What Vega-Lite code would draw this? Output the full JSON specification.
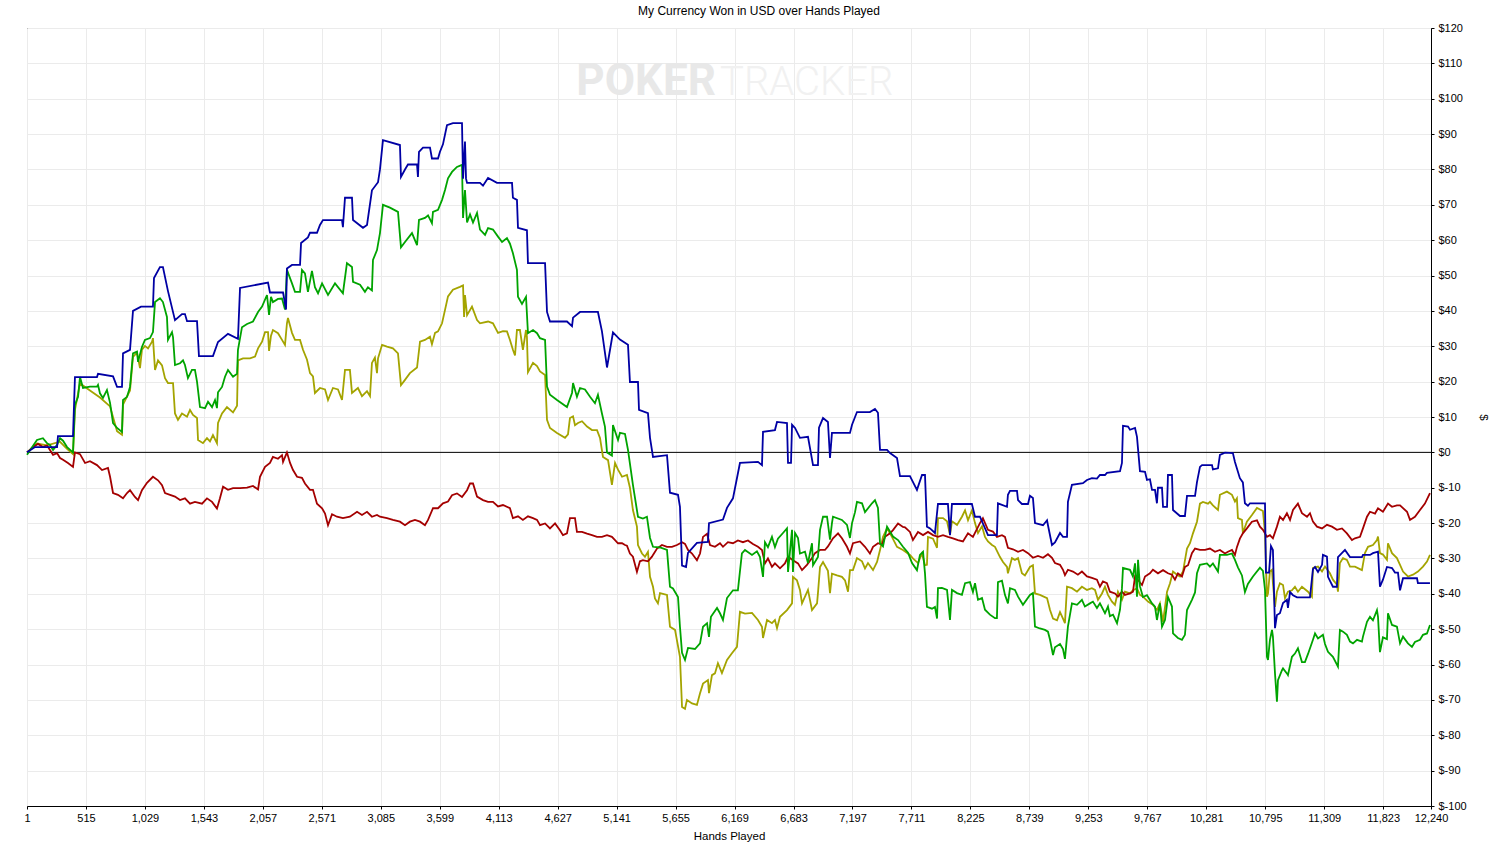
{
  "$schema": "https://vega.github.io/schema/vega-lite/v6.json",
  "width": 1404,
  "height": 778,
  "autosize": {"type": "none"},
  "padding": {"left": 27, "top": 28, "right": 80, "bottom": 37},
  "background": "#ffffff",
  "config": {
    "font": "Liberation Sans",
    "view": {"stroke": "#000000", "strokeWidth": 1},
    "axis": {"labelFont": "Liberation Sans", "titleFont": "Liberation Sans", "labelFontSize": 11, "titleFontSize": 11.5, "titleFontWeight": "normal", "labelColor": "#000000", "titleColor": "#000000", "domainColor": "#000000", "tickColor": "#000000", "gridColor": "#ebebeb", "gridWidth": 1}
  },
  "title": {"text": "My Currency Won in USD over Hands Played", "fontSize": 12, "fontWeight": "normal", "font": "Liberation Sans", "color": "#000000", "anchor": "middle", "frame": "group", "dx": 30, "offset": 4},
  "datasets": {
    "blue": [
      {"h":1,"v":0},{"h":71,"v":1.5},{"h":263,"v":1.5},{"h":271,"v":4.6},{"h":402,"v":4.6},{"h":419,"v":21.3},{"h":611,"v":21.3},{"h":620,"v":22.2},{"h":751,"v":21.5},{"h":786,"v":18.5},{"h":829,"v":18.5},{"h":838,"v":28},{"h":899,"v":29},{"h":925,"v":40},{"h":995,"v":41.2},{"h":1099,"v":41.2},{"h":1108,"v":49.3},{"h":1160,"v":52.4},{"h":1186,"v":52.4},{"h":1230,"v":45.6},{"h":1291,"v":37.4},{"h":1352,"v":39.1},{"h":1378,"v":39.1},{"h":1396,"v":37.1},{"h":1483,"v":37.1},{"h":1500,"v":27.2},{"h":1622,"v":27.2},{"h":1666,"v":31.2},{"h":1753,"v":33.5},{"h":1840,"v":32.1},{"h":1858,"v":46.5},{"h":2102,"v":48},{"h":2119,"v":45.2},{"h":2233,"v":45.2},{"h":2259,"v":40.4},{"h":2267,"v":52},{"h":2311,"v":53},{"h":2381,"v":53},{"h":2390,"v":59.2},{"h":2450,"v":60.8},{"h":2468,"v":62.1},{"h":2529,"v":62.1},{"h":2555,"v":64.3},{"h":2581,"v":65.7},{"h":2747,"v":65.7},{"h":2755,"v":63.7},{"h":2773,"v":72},{"h":2834,"v":72},{"h":2843,"v":65.7},{"h":2930,"v":63.5},{"h":2965,"v":64.3},{"h":3008,"v":74.1},{"h":3061,"v":76.4},{"h":3078,"v":80},{"h":3104,"v":88.3},{"h":3252,"v":86.9},{"h":3261,"v":77.9},{"h":3296,"v":80},{"h":3322,"v":81.4},{"h":3401,"v":81.4},{"h":3409,"v":77.9},{"h":3418,"v":85},{"h":3453,"v":86.2},{"h":3514,"v":86.2},{"h":3531,"v":83.1},{"h":3584,"v":83.1},{"h":3601,"v":85},{"h":3627,"v":87.1},{"h":3662,"v":92.5},{"h":3714,"v":93.1},{"h":3793,"v":93.1},{"h":3802,"v":77.4},{"h":3819,"v":87.9},{"h":3828,"v":77.4},{"h":3837,"v":76.2},{"h":3950,"v":76.2},{"h":3976,"v":75.4},{"h":4020,"v":77.6},{"h":4098,"v":76.2},{"h":4229,"v":76.2},{"h":4237,"v":72},{"h":4272,"v":71.4},{"h":4281,"v":63.5},{"h":4359,"v":62.8},{"h":4368,"v":53.5},{"h":4517,"v":53.5},{"h":4534,"v":39.7},{"h":4560,"v":37},{"h":4708,"v":37},{"h":4752,"v":35.7},{"h":4761,"v":38.1},{"h":4822,"v":39.7},{"h":4978,"v":39.7},{"h":5013,"v":34.2},{"h":5057,"v":24},{"h":5109,"v":33.9},{"h":5170,"v":31.9},{"h":5240,"v":30.4},{"h":5257,"v":19.9},{"h":5327,"v":19.9},{"h":5336,"v":12},{"h":5414,"v":11.1},{"h":5432,"v":4.1},{"h":5458,"v":-1.3},{"h":5580,"v":-0.8},{"h":5606,"v":-11.4},{"h":5676,"v":-12},{"h":5693,"v":-15.4},{"h":5711,"v":-32},{"h":5746,"v":-32.4},{"h":5763,"v":-28.4},{"h":5841,"v":-25.6},{"h":5937,"v":-25.3},{"h":5946,"v":-20},{"h":6068,"v":-19},{"h":6103,"v":-15.7},{"h":6155,"v":-13},{"h":6216,"v":-3},{"h":6373,"v":-2.7},{"h":6408,"v":-3.6},{"h":6417,"v":5.8},{"h":6521,"v":6.3},{"h":6539,"v":8.6},{"h":6626,"v":8.3},{"h":6635,"v":-3},{"h":6661,"v":-3},{"h":6670,"v":7.8},{"h":6696,"v":6.9},{"h":6739,"v":4.1},{"h":6809,"v":4.4},{"h":6853,"v":-3.6},{"h":6896,"v":-3.6},{"h":6905,"v":7},{"h":6940,"v":9.7},{"h":6983,"v":8.6},{"h":7001,"v":-1.6},{"h":7018,"v":5.5},{"h":7175,"v":5.5},{"h":7193,"v":7.8},{"h":7236,"v":11.4},{"h":7349,"v":11.4},{"h":7393,"v":12.3},{"h":7419,"v":11.2},{"h":7437,"v":0.7},{"h":7498,"v":0.7},{"h":7524,"v":-0.2},{"h":7585,"v":-1.6},{"h":7611,"v":-6.7},{"h":7698,"v":-6.7},{"h":7759,"v":-10.6},{"h":7803,"v":-6.4},{"h":7829,"v":-6.4},{"h":7846,"v":-21},{"h":7873,"v":-21.5},{"h":7916,"v":-22.8},{"h":7942,"v":-14.6},{"h":8029,"v":-14.6},{"h":8047,"v":-23.4},{"h":8064,"v":-14.6},{"h":8238,"v":-14.6},{"h":8265,"v":-18.2},{"h":8308,"v":-18.2},{"h":8378,"v":-23.4},{"h":8456,"v":-23.4},{"h":8465,"v":-14.4},{"h":8544,"v":-15.4},{"h":8552,"v":-12},{"h":8570,"v":-10.9},{"h":8631,"v":-10.9},{"h":8640,"v":-13.5},{"h":8674,"v":-14.6},{"h":8727,"v":-14.6},{"h":8744,"v":-12.3},{"h":8770,"v":-12.9},{"h":8788,"v":-20},{"h":8858,"v":-20.6},{"h":8893,"v":-19.2},{"h":8901,"v":-20.6},{"h":8936,"v":-26.2},{"h":8962,"v":-25.5},{"h":9006,"v":-22.8},{"h":9032,"v":-23.9},{"h":9067,"v":-23.9},{"h":9075,"v":-14},{"h":9110,"v":-9.2},{"h":9206,"v":-8.7},{"h":9241,"v":-7.8},{"h":9284,"v":-7.3},{"h":9328,"v":-7.4},{"h":9354,"v":-6.4},{"h":9398,"v":-6.4},{"h":9415,"v":-5.8},{"h":9529,"v":-5.3},{"h":9546,"v":-3},{"h":9555,"v":7.5},{"h":9599,"v":7.3},{"h":9616,"v":6.4},{"h":9660,"v":6.9},{"h":9677,"v":4.4},{"h":9703,"v":-5.3},{"h":9747,"v":-5.5},{"h":9764,"v":-7.8},{"h":9790,"v":-7.6},{"h":9808,"v":-10.6},{"h":9834,"v":-10.6},{"h":9851,"v":-14.4},{"h":9860,"v":-10},{"h":9895,"v":-10},{"h":9904,"v":-15.4},{"h":9939,"v":-15.4},{"h":9947,"v":-6.4},{"h":9982,"v":-6.4},{"h":9991,"v":-16.3},{"h":10052,"v":-18},{"h":10095,"v":-18},{"h":10113,"v":-12.3},{"h":10183,"v":-12.3},{"h":10200,"v":-8.4},{"h":10226,"v":-4.1},{"h":10244,"v":-3.6},{"h":10331,"v":-3.6},{"h":10339,"v":-4.8},{"h":10383,"v":-4.5},{"h":10400,"v":-0.7},{"h":10444,"v":-0.1},{"h":10513,"v":-0.2},{"h":10531,"v":-2.7},{"h":10574,"v":-7.3},{"h":10600,"v":-8.5},{"h":10618,"v":-14.4},{"h":10644,"v":-15.1},{"h":10662,"v":-14.4},{"h":10793,"v":-14.4},{"h":10801,"v":-34},{"h":10828,"v":-34},{"h":10845,"v":-26.5},{"h":10862,"v":-27.6},{"h":10880,"v":-49.7},{"h":10897,"v":-46},{"h":10923,"v":-45.5},{"h":10950,"v":-42.6},{"h":10984,"v":-41.7},{"h":10993,"v":-44},{"h":11011,"v":-39.5},{"h":11037,"v":-40.4},{"h":11072,"v":-41},{"h":11185,"v":-41},{"h":11211,"v":-33},{"h":11229,"v":-32.4},{"h":11255,"v":-33.8},{"h":11290,"v":-31.8},{"h":11298,"v":-29},{"h":11333,"v":-29.5},{"h":11342,"v":-35.2},{"h":11385,"v":-38},{"h":11420,"v":-38},{"h":11429,"v":-29.6},{"h":11490,"v":-27.6},{"h":11534,"v":-29.6},{"h":11638,"v":-29.6},{"h":11647,"v":-29},{"h":11708,"v":-29},{"h":11734,"v":-28.5},{"h":11778,"v":-28.1},{"h":11795,"v":-38},{"h":11821,"v":-36},{"h":11856,"v":-32.4},{"h":11900,"v":-32.7},{"h":11926,"v":-34},{"h":11952,"v":-34},{"h":11970,"v":-39},{"h":11996,"v":-35.6},{"h":12118,"v":-35.6},{"h":12126,"v":-37},{"h":12231,"v":-37}
    ],
    "green": [
      {"h":1,"v":-0.7},{"h":88,"v":3.5},{"h":140,"v":4},{"h":175,"v":2.6},{"h":201,"v":2.1},{"h":228,"v":0.7},{"h":263,"v":2.1},{"h":289,"v":4},{"h":315,"v":3.3},{"h":350,"v":1.5},{"h":402,"v":0},{"h":419,"v":13.4},{"h":446,"v":15.7},{"h":463,"v":21.3},{"h":489,"v":18.2},{"h":550,"v":18.6},{"h":611,"v":18.6},{"h":620,"v":19.1},{"h":637,"v":16.7},{"h":663,"v":15.4},{"h":698,"v":17.6},{"h":725,"v":14},{"h":751,"v":8.3},{"h":786,"v":6.9},{"h":829,"v":5.8},{"h":838,"v":14.8},{"h":873,"v":15.7},{"h":899,"v":18.5},{"h":925,"v":28},{"h":960,"v":28.5},{"h":969,"v":25.6},{"h":1003,"v":29.8},{"h":1029,"v":31.8},{"h":1073,"v":32.3},{"h":1099,"v":34},{"h":1117,"v":42.5},{"h":1160,"v":43.6},{"h":1186,"v":42.5},{"h":1221,"v":38.3},{"h":1230,"v":31.8},{"h":1265,"v":34},{"h":1274,"v":32.5},{"h":1291,"v":24.7},{"h":1335,"v":25.2},{"h":1361,"v":26},{"h":1378,"v":24.7},{"h":1404,"v":21},{"h":1439,"v":23.3},{"h":1465,"v":23.3},{"h":1483,"v":20},{"h":1509,"v":12.8},{"h":1553,"v":12.5},{"h":1579,"v":14.3},{"h":1614,"v":12.8},{"h":1640,"v":14.8},{"h":1657,"v":12.5},{"h":1666,"v":17},{"h":1701,"v":18.5},{"h":1727,"v":21.4},{"h":1753,"v":23.3},{"h":1797,"v":21.4},{"h":1832,"v":22.2},{"h":1840,"v":29},{"h":1875,"v":35.4},{"h":1919,"v":36.3},{"h":1971,"v":37},{"h":2015,"v":39.7},{"h":2050,"v":41.2},{"h":2093,"v":44.5},{"h":2111,"v":38.9},{"h":2128,"v":44},{"h":2145,"v":42.5},{"h":2189,"v":43.4},{"h":2224,"v":43.5},{"h":2250,"v":40.4},{"h":2267,"v":51.6},{"h":2311,"v":47.8},{"h":2337,"v":45.4},{"h":2381,"v":45.4},{"h":2398,"v":51.6},{"h":2424,"v":50.6},{"h":2450,"v":45.4},{"h":2485,"v":51.3},{"h":2511,"v":46.7},{"h":2538,"v":45},{"h":2573,"v":47.8},{"h":2625,"v":44.5},{"h":2686,"v":47.8},{"h":2755,"v":45},{"h":2790,"v":53.5},{"h":2834,"v":52.4},{"h":2843,"v":48.2},{"h":2904,"v":47.4},{"h":2947,"v":45.4},{"h":2973,"v":46.7},{"h":3008,"v":45.8},{"h":3017,"v":54.4},{"h":3052,"v":57.2},{"h":3078,"v":62},{"h":3104,"v":70},{"h":3165,"v":69.2},{"h":3235,"v":68},{"h":3261,"v":58},{"h":3296,"v":59.5},{"h":3357,"v":62},{"h":3401,"v":58.6},{"h":3418,"v":65.7},{"h":3470,"v":66.3},{"h":3497,"v":67},{"h":3531,"v":64.8},{"h":3540,"v":68},{"h":3584,"v":68.6},{"h":3619,"v":71.4},{"h":3645,"v":74.2},{"h":3671,"v":77.5},{"h":3706,"v":79.3},{"h":3749,"v":80.7},{"h":3793,"v":81.3},{"h":3802,"v":66.3},{"h":3819,"v":74.2},{"h":3837,"v":65},{"h":3863,"v":67.3},{"h":3889,"v":65},{"h":3924,"v":67.7},{"h":3950,"v":63},{"h":3994,"v":61.5},{"h":4020,"v":63.4},{"h":4063,"v":63},{"h":4107,"v":61},{"h":4142,"v":59.5},{"h":4185,"v":60.6},{"h":4211,"v":59},{"h":4237,"v":56.3},{"h":4272,"v":51.6},{"h":4281,"v":44},{"h":4316,"v":42},{"h":4351,"v":44},{"h":4368,"v":33.7},{"h":4412,"v":34.6},{"h":4447,"v":33.7},{"h":4473,"v":32.3},{"h":4517,"v":31.8},{"h":4534,"v":18.6},{"h":4560,"v":16.3},{"h":4621,"v":14.8},{"h":4708,"v":12.8},{"h":4752,"v":16.8},{"h":4761,"v":19.6},{"h":4795,"v":15.7},{"h":4822,"v":18.2},{"h":4865,"v":17.8},{"h":4909,"v":15.7},{"h":4952,"v":13.9},{"h":4978,"v":16.3},{"h":5013,"v":11},{"h":5039,"v":7.3},{"h":5057,"v":0},{"h":5100,"v":-0.9},{"h":5109,"v":7.7},{"h":5153,"v":3.5},{"h":5170,"v":5.5},{"h":5214,"v":5.2},{"h":5240,"v":0.7},{"h":5283,"v":-9.2},{"h":5327,"v":-18.2},{"h":5370,"v":-18.7},{"h":5405,"v":-18.2},{"h":5432,"v":-24.2},{"h":5458,"v":-26.7},{"h":5519,"v":-26.9},{"h":5580,"v":-27.6},{"h":5606,"v":-38},{"h":5632,"v":-38.5},{"h":5676,"v":-40.9},{"h":5693,"v":-49.3},{"h":5711,"v":-56.7},{"h":5737,"v":-58.7},{"h":5763,"v":-55.3},{"h":5824,"v":-55.6},{"h":5868,"v":-54},{"h":5894,"v":-49.3},{"h":5929,"v":-48.3},{"h":5946,"v":-52.2},{"h":5963,"v":-46.5},{"h":6016,"v":-44},{"h":6042,"v":-45.5},{"h":6068,"v":-47.4},{"h":6103,"v":-41.2},{"h":6155,"v":-39},{"h":6198,"v":-39},{"h":6233,"v":-28.6},{"h":6260,"v":-27.6},{"h":6321,"v":-29},{"h":6364,"v":-28},{"h":6390,"v":-29.5},{"h":6417,"v":-35.2},{"h":6434,"v":-25.4},{"h":6460,"v":-26.8},{"h":6495,"v":-23.9},{"h":6521,"v":-26.8},{"h":6547,"v":-24.4},{"h":6591,"v":-22.8},{"h":6626,"v":-21.5},{"h":6635,"v":-33.8},{"h":6670,"v":-21.9},{"h":6678,"v":-33.8},{"h":6696,"v":-22.8},{"h":6722,"v":-24.2},{"h":6739,"v":-28.6},{"h":6783,"v":-28.1},{"h":6809,"v":-31.3},{"h":6844,"v":-25.7},{"h":6853,"v":-31.9},{"h":6896,"v":-29.6},{"h":6914,"v":-21.9},{"h":6940,"v":-18.2},{"h":6975,"v":-18.2},{"h":7001,"v":-24.7},{"h":7018,"v":-20},{"h":7027,"v":-18.2},{"h":7105,"v":-19.1},{"h":7149,"v":-20.5},{"h":7175,"v":-24.2},{"h":7193,"v":-20},{"h":7219,"v":-16.9},{"h":7236,"v":-14},{"h":7280,"v":-14.4},{"h":7306,"v":-16.9},{"h":7367,"v":-14.4},{"h":7393,"v":-13.5},{"h":7419,"v":-15.7},{"h":7437,"v":-25.7},{"h":7463,"v":-26.6},{"h":7498,"v":-21},{"h":7550,"v":-23.8},{"h":7594,"v":-24.8},{"h":7637,"v":-26.7},{"h":7681,"v":-28.4},{"h":7716,"v":-31.3},{"h":7759,"v":-33.3},{"h":7785,"v":-29},{"h":7812,"v":-28.1},{"h":7829,"v":-34.2},{"h":7846,"v":-43.7},{"h":7890,"v":-44.2},{"h":7916,"v":-43.7},{"h":7934,"v":-47},{"h":7942,"v":-38.4},{"h":7977,"v":-38.3},{"h":8021,"v":-38.9},{"h":8047,"v":-47.4},{"h":8064,"v":-38.9},{"h":8108,"v":-39.8},{"h":8151,"v":-40.3},{"h":8178,"v":-37},{"h":8221,"v":-36.7},{"h":8247,"v":-39.5},{"h":8265,"v":-37},{"h":8291,"v":-41.7},{"h":8326,"v":-41.2},{"h":8352,"v":-44.5},{"h":8395,"v":-45.9},{"h":8439,"v":-46.9},{"h":8456,"v":-46.9},{"h":8465,"v":-36.7},{"h":8500,"v":-36.3},{"h":8526,"v":-40.3},{"h":8552,"v":-42.7},{"h":8570,"v":-38.4},{"h":8613,"v":-38.9},{"h":8640,"v":-40.8},{"h":8683,"v":-43.1},{"h":8744,"v":-40.3},{"h":8770,"v":-39.8},{"h":8788,"v":-49.3},{"h":8831,"v":-49.8},{"h":8875,"v":-50.2},{"h":8901,"v":-50.7},{"h":8919,"v":-53},{"h":8945,"v":-57.3},{"h":8962,"v":-55.1},{"h":9006,"v":-54.2},{"h":9032,"v":-55.6},{"h":9049,"v":-58.4},{"h":9075,"v":-49.3},{"h":9110,"v":-42.7},{"h":9154,"v":-43.1},{"h":9197,"v":-41.7},{"h":9223,"v":-43.6},{"h":9267,"v":-42.7},{"h":9293,"v":-42.2},{"h":9328,"v":-44},{"h":9354,"v":-42.7},{"h":9398,"v":-45.5},{"h":9424,"v":-43.6},{"h":9441,"v":-46.3},{"h":9468,"v":-45.9},{"h":9503,"v":-48.3},{"h":9529,"v":-44.5},{"h":9546,"v":-38.4},{"h":9555,"v":-32.7},{"h":9616,"v":-33.2},{"h":9642,"v":-35.1},{"h":9660,"v":-31.4},{"h":9677,"v":-40.8},{"h":9686,"v":-30.4},{"h":9703,"v":-37.9},{"h":9729,"v":-40.9},{"h":9764,"v":-40.4},{"h":9808,"v":-42.7},{"h":9834,"v":-43.6},{"h":9851,"v":-47.4},{"h":9877,"v":-42.7},{"h":9895,"v":-49.3},{"h":9921,"v":-47.4},{"h":9947,"v":-40.9},{"h":9982,"v":-43.6},{"h":9991,"v":-51.2},{"h":10034,"v":-52.5},{"h":10069,"v":-53},{"h":10095,"v":-51.6},{"h":10113,"v":-44.6},{"h":10156,"v":-41.7},{"h":10183,"v":-39.6},{"h":10200,"v":-34.2},{"h":10226,"v":-31.8},{"h":10287,"v":-31.4},{"h":10313,"v":-32.3},{"h":10339,"v":-31.4},{"h":10383,"v":-33.7},{"h":10400,"v":-29},{"h":10461,"v":-29},{"h":10505,"v":-28.6},{"h":10531,"v":-30.4},{"h":10557,"v":-32.5},{"h":10592,"v":-34.8},{"h":10618,"v":-39.5},{"h":10644,"v":-37.2},{"h":10688,"v":-35.1},{"h":10749,"v":-32.6},{"h":10775,"v":-33.5},{"h":10793,"v":-38.9},{"h":10810,"v":-57.8},{"h":10819,"v":-58.7},{"h":10836,"v":-53},{"h":10854,"v":-50.2},{"h":10862,"v":-52.1},{"h":10880,"v":-62.5},{"h":10897,"v":-70.5},{"h":10906,"v":-64.4},{"h":10941,"v":-61.6},{"h":10950,"v":-61.1},{"h":10984,"v":-62.5},{"h":10993,"v":-63},{"h":11028,"v":-57.8},{"h":11054,"v":-56.9},{"h":11080,"v":-55.4},{"h":11115,"v":-59.3},{"h":11141,"v":-59.3},{"h":11168,"v":-57},{"h":11211,"v":-53},{"h":11229,"v":-51.2},{"h":11255,"v":-52.6},{"h":11298,"v":-51.6},{"h":11316,"v":-54.2},{"h":11342,"v":-56.4},{"h":11385,"v":-57.8},{"h":11429,"v":-60.6},{"h":11446,"v":-50.2},{"h":11473,"v":-50.7},{"h":11507,"v":-51.6},{"h":11534,"v":-53.5},{"h":11560,"v":-54},{"h":11595,"v":-53},{"h":11638,"v":-53.5},{"h":11647,"v":-52.1},{"h":11682,"v":-47.9},{"h":11708,"v":-46.5},{"h":11734,"v":-47.5},{"h":11769,"v":-44.6},{"h":11778,"v":-46.5},{"h":11795,"v":-56.5},{"h":11821,"v":-52.3},{"h":11856,"v":-52.8},{"h":11865,"v":-45.5},{"h":11900,"v":-48.8},{"h":11943,"v":-49.3},{"h":11970,"v":-54},{"h":11996,"v":-52.1},{"h":12039,"v":-54},{"h":12074,"v":-55},{"h":12100,"v":-53.6},{"h":12144,"v":-53},{"h":12170,"v":-51.6},{"h":12205,"v":-51.2},{"h":12231,"v":-48.8}
    ],
    "olive": [
      {"h":1,"v":0},{"h":88,"v":2.5},{"h":175,"v":2},{"h":289,"v":3},{"h":350,"v":1},{"h":402,"v":-0.5},{"h":419,"v":12},{"h":463,"v":19.5},{"h":550,"v":17.5},{"h":637,"v":15.5},{"h":725,"v":13},{"h":786,"v":6},{"h":829,"v":5},{"h":838,"v":13.5},{"h":899,"v":17.5},{"h":925,"v":27},{"h":960,"v":28.2},{"h":986,"v":23.8},{"h":1003,"v":29},{"h":1029,"v":30.1},{"h":1056,"v":29.4},{"h":1091,"v":31.3},{"h":1099,"v":32.3},{"h":1117,"v":23.3},{"h":1143,"v":26},{"h":1178,"v":24.6},{"h":1204,"v":21},{"h":1230,"v":19.6},{"h":1274,"v":19.6},{"h":1291,"v":11},{"h":1317,"v":9.2},{"h":1352,"v":11},{"h":1396,"v":10.1},{"h":1422,"v":12},{"h":1448,"v":10.6},{"h":1483,"v":9.7},{"h":1492,"v":3.5},{"h":1535,"v":2.6},{"h":1570,"v":4},{"h":1596,"v":3.1},{"h":1622,"v":4.9},{"h":1657,"v":2.6},{"h":1666,"v":8.3},{"h":1701,"v":11},{"h":1744,"v":12.8},{"h":1797,"v":11.3},{"h":1832,"v":13.2},{"h":1840,"v":26},{"h":1884,"v":26.6},{"h":1945,"v":26.6},{"h":1989,"v":27.1},{"h":2015,"v":29.4},{"h":2050,"v":31.3},{"h":2076,"v":34},{"h":2102,"v":34},{"h":2111,"v":28.7},{"h":2128,"v":33},{"h":2145,"v":34.6},{"h":2189,"v":33.7},{"h":2224,"v":31.8},{"h":2250,"v":30.4},{"h":2267,"v":36.5},{"h":2276,"v":38},{"h":2311,"v":33.8},{"h":2337,"v":31.8},{"h":2381,"v":31.8},{"h":2407,"v":29},{"h":2442,"v":26.2},{"h":2468,"v":22.4},{"h":2494,"v":21.5},{"h":2511,"v":16.8},{"h":2555,"v":18.2},{"h":2599,"v":17.8},{"h":2625,"v":14.8},{"h":2668,"v":18.2},{"h":2712,"v":17.8},{"h":2747,"v":14.8},{"h":2773,"v":23.3},{"h":2816,"v":23.3},{"h":2834,"v":16.8},{"h":2886,"v":18.2},{"h":2921,"v":15.9},{"h":2965,"v":17.3},{"h":2991,"v":15.9},{"h":3008,"v":25.3},{"h":3034,"v":26.8},{"h":3052,"v":22.4},{"h":3061,"v":26.6},{"h":3096,"v":30.4},{"h":3139,"v":29.9},{"h":3191,"v":29.4},{"h":3235,"v":28},{"h":3261,"v":19},{"h":3296,"v":20.5},{"h":3339,"v":22.4},{"h":3401,"v":24},{"h":3427,"v":31.3},{"h":3470,"v":31.8},{"h":3514,"v":32.7},{"h":3531,"v":30.6},{"h":3558,"v":33.8},{"h":3584,"v":34.2},{"h":3619,"v":36.5},{"h":3645,"v":40.3},{"h":3671,"v":44.1},{"h":3714,"v":46},{"h":3775,"v":46.8},{"h":3802,"v":47.2},{"h":3811,"v":38.3},{"h":3819,"v":44.5},{"h":3837,"v":38.8},{"h":3880,"v":41.2},{"h":3924,"v":37.4},{"h":3950,"v":36.5},{"h":4020,"v":37},{"h":4063,"v":36.5},{"h":4107,"v":33.8},{"h":4150,"v":34.3},{"h":4185,"v":34.2},{"h":4211,"v":31.8},{"h":4237,"v":29},{"h":4255,"v":27.4},{"h":4272,"v":34.6},{"h":4298,"v":34.6},{"h":4324,"v":29},{"h":4351,"v":34.6},{"h":4359,"v":32.7},{"h":4368,"v":22.7},{"h":4412,"v":25.3},{"h":4447,"v":24.4},{"h":4473,"v":22.9},{"h":4517,"v":21.9},{"h":4534,"v":9.2},{"h":4560,"v":6.9},{"h":4621,"v":5.5},{"h":4691,"v":4.1},{"h":4717,"v":5.1},{"h":4734,"v":9.7},{"h":4761,"v":10.2},{"h":4778,"v":7.7},{"h":4804,"v":8.3},{"h":4839,"v":8.8},{"h":4883,"v":7.3},{"h":4926,"v":6.3},{"h":4970,"v":6.3},{"h":4996,"v":4.1},{"h":5022,"v":-1.3},{"h":5066,"v":-2.2},{"h":5100,"v":-9.2},{"h":5127,"v":-3},{"h":5153,"v":-4.9},{"h":5188,"v":-6.9},{"h":5231,"v":-6.4},{"h":5257,"v":-10},{"h":5283,"v":-16.3},{"h":5318,"v":-21},{"h":5327,"v":-26.2},{"h":5362,"v":-28.6},{"h":5388,"v":-29.5},{"h":5414,"v":-28.1},{"h":5432,"v":-35.2},{"h":5458,"v":-38},{"h":5475,"v":-41.3},{"h":5501,"v":-42.7},{"h":5519,"v":-39.8},{"h":5580,"v":-40.3},{"h":5606,"v":-49.3},{"h":5650,"v":-50.2},{"h":5693,"v":-57.8},{"h":5711,"v":-72},{"h":5737,"v":-72.5},{"h":5754,"v":-70},{"h":5798,"v":-71},{"h":5841,"v":-71.4},{"h":5868,"v":-68.1},{"h":5894,"v":-65.4},{"h":5937,"v":-64.4},{"h":5946,"v":-68.1},{"h":5972,"v":-63},{"h":5998,"v":-62.5},{"h":6024,"v":-59.6},{"h":6059,"v":-62.4},{"h":6103,"v":-58.7},{"h":6146,"v":-56.8},{"h":6190,"v":-55},{"h":6216,"v":-45.1},{"h":6260,"v":-45.6},{"h":6321,"v":-45.4},{"h":6373,"v":-47.4},{"h":6408,"v":-49.3},{"h":6417,"v":-52.5},{"h":6452,"v":-47.4},{"h":6495,"v":-48.3},{"h":6521,"v":-47.4},{"h":6539,"v":-49.7},{"h":6565,"v":-46.5},{"h":6626,"v":-44.6},{"h":6670,"v":-42.7},{"h":6678,"v":-35.2},{"h":6713,"v":-36.2},{"h":6739,"v":-38.9},{"h":6757,"v":-42.7},{"h":6783,"v":-40.8},{"h":6809,"v":-38.9},{"h":6844,"v":-44.6},{"h":6888,"v":-42.7},{"h":6896,"v":-39.8},{"h":6914,"v":-32.4},{"h":6940,"v":-31},{"h":6983,"v":-33.5},{"h":7001,"v":-39.8},{"h":7018,"v":-34.3},{"h":7062,"v":-34.8},{"h":7105,"v":-35.2},{"h":7132,"v":-36.2},{"h":7158,"v":-39.4},{"h":7175,"v":-33.3},{"h":7201,"v":-33.3},{"h":7236,"v":-29.9},{"h":7280,"v":-30.8},{"h":7306,"v":-32.8},{"h":7332,"v":-31.3},{"h":7376,"v":-33.3},{"h":7411,"v":-31},{"h":7437,"v":-27.6},{"h":7463,"v":-23.9},{"h":7498,"v":-21.5},{"h":7541,"v":-23.9},{"h":7585,"v":-26.7},{"h":7637,"v":-27.6},{"h":7698,"v":-29},{"h":7724,"v":-30},{"h":7768,"v":-31.3},{"h":7803,"v":-28.6},{"h":7829,"v":-31.9},{"h":7846,"v":-31.8},{"h":7855,"v":-23.9},{"h":7899,"v":-24.4},{"h":7934,"v":-27},{"h":7942,"v":-18.6},{"h":7986,"v":-18.6},{"h":8021,"v":-19.5},{"h":8047,"v":-23.3},{"h":8064,"v":-19.5},{"h":8108,"v":-20.5},{"h":8151,"v":-18.2},{"h":8178,"v":-16.4},{"h":8204,"v":-19.2},{"h":8238,"v":-16.4},{"h":8265,"v":-20},{"h":8291,"v":-22.8},{"h":8326,"v":-20.9},{"h":8352,"v":-23.9},{"h":8378,"v":-25.2},{"h":8413,"v":-26.2},{"h":8439,"v":-26.7},{"h":8483,"v":-29.6},{"h":8509,"v":-31},{"h":8544,"v":-32.4},{"h":8552,"v":-34.2},{"h":8587,"v":-29.9},{"h":8613,"v":-30.4},{"h":8640,"v":-29.9},{"h":8674,"v":-34.2},{"h":8700,"v":-34.8},{"h":8744,"v":-32.4},{"h":8770,"v":-31.9},{"h":8788,"v":-39.9},{"h":8831,"v":-40.3},{"h":8893,"v":-41.2},{"h":8919,"v":-44.6},{"h":8945,"v":-47},{"h":8980,"v":-47.5},{"h":9006,"v":-45.2},{"h":9032,"v":-47},{"h":9049,"v":-48.3},{"h":9067,"v":-38},{"h":9110,"v":-38.4},{"h":9154,"v":-39.4},{"h":9197,"v":-38},{"h":9241,"v":-38.9},{"h":9284,"v":-38.4},{"h":9311,"v":-38.9},{"h":9337,"v":-41.7},{"h":9372,"v":-39.9},{"h":9398,"v":-38},{"h":9424,"v":-40.3},{"h":9459,"v":-42.2},{"h":9485,"v":-43.1},{"h":9511,"v":-39.4},{"h":9546,"v":-41.7},{"h":9572,"v":-39.4},{"h":9616,"v":-39.9},{"h":9642,"v":-39},{"h":9677,"v":-38.5},{"h":9703,"v":-40.3},{"h":9729,"v":-40.8},{"h":9773,"v":-42.2},{"h":9816,"v":-43.1},{"h":9851,"v":-44.6},{"h":9877,"v":-42.7},{"h":9904,"v":-47.9},{"h":9939,"v":-39.4},{"h":9965,"v":-37},{"h":9991,"v":-33.7},{"h":10026,"v":-34.6},{"h":10052,"v":-35.1},{"h":10078,"v":-33.7},{"h":10113,"v":-27.2},{"h":10139,"v":-25.7},{"h":10165,"v":-22.9},{"h":10200,"v":-19.6},{"h":10226,"v":-14.5},{"h":10252,"v":-14},{"h":10296,"v":-14.5},{"h":10313,"v":-14},{"h":10339,"v":-15},{"h":10383,"v":-16.3},{"h":10400,"v":-12},{"h":10461,"v":-11.1},{"h":10505,"v":-12},{"h":10531,"v":-13.9},{"h":10548,"v":-13},{"h":10557,"v":-18.6},{"h":10592,"v":-19.1},{"h":10600,"v":-22.8},{"h":10635,"v":-19.6},{"h":10679,"v":-17.7},{"h":10723,"v":-15.7},{"h":10775,"v":-16.6},{"h":10793,"v":-22.8},{"h":10810,"v":-40.8},{"h":10819,"v":-39.9},{"h":10836,"v":-33.7},{"h":10854,"v":-33.2},{"h":10862,"v":-37},{"h":10880,"v":-43.7},{"h":10897,"v":-39.4},{"h":10923,"v":-37},{"h":10950,"v":-37.5},{"h":10967,"v":-41.2},{"h":10993,"v":-39.4},{"h":11028,"v":-39},{"h":11054,"v":-38},{"h":11080,"v":-39.4},{"h":11115,"v":-38},{"h":11168,"v":-39.4},{"h":11202,"v":-40.8},{"h":11211,"v":-32.7},{"h":11255,"v":-32.3},{"h":11290,"v":-33.7},{"h":11316,"v":-32.3},{"h":11359,"v":-34.2},{"h":11385,"v":-36},{"h":11420,"v":-37.4},{"h":11429,"v":-39.4},{"h":11446,"v":-31.3},{"h":11473,"v":-29.9},{"h":11507,"v":-30.4},{"h":11534,"v":-32.3},{"h":11577,"v":-32.3},{"h":11638,"v":-33.3},{"h":11664,"v":-28.5},{"h":11691,"v":-26.7},{"h":11734,"v":-26.2},{"h":11769,"v":-24.8},{"h":11778,"v":-23.8},{"h":11795,"v":-28.5},{"h":11821,"v":-28.9},{"h":11856,"v":-30.4},{"h":11865,"v":-25.7},{"h":11900,"v":-28.5},{"h":11943,"v":-29.9},{"h":11970,"v":-31.8},{"h":11996,"v":-33.7},{"h":12039,"v":-35.1},{"h":12083,"v":-34.6},{"h":12126,"v":-33.7},{"h":12170,"v":-32.3},{"h":12205,"v":-30.9},{"h":12231,"v":-29}
    ],
    "red": [
      {"h":1,"v":0},{"h":27,"v":0.7},{"h":53,"v":1.5},{"h":97,"v":2.4},{"h":140,"v":1.5},{"h":175,"v":2},{"h":201,"v":0.7},{"h":228,"v":-0.7},{"h":263,"v":-0.2},{"h":289,"v":-1.6},{"h":315,"v":-2.1},{"h":358,"v":-3},{"h":402,"v":-4.1},{"h":419,"v":0},{"h":463,"v":-0.5},{"h":507,"v":-3},{"h":550,"v":-2.5},{"h":611,"v":-3.6},{"h":655,"v":-5},{"h":707,"v":-4.4},{"h":725,"v":-6.9},{"h":751,"v":-11.5},{"h":794,"v":-12},{"h":838,"v":-13},{"h":873,"v":-11.5},{"h":899,"v":-10.7},{"h":942,"v":-12.6},{"h":969,"v":-13.5},{"h":1003,"v":-10.7},{"h":1047,"v":-8.6},{"h":1099,"v":-6.9},{"h":1143,"v":-7.9},{"h":1178,"v":-9.3},{"h":1204,"v":-11.5},{"h":1248,"v":-12},{"h":1291,"v":-12.5},{"h":1335,"v":-13.5},{"h":1378,"v":-13},{"h":1422,"v":-14.5},{"h":1465,"v":-14},{"h":1527,"v":-14.5},{"h":1570,"v":-13},{"h":1614,"v":-14},{"h":1657,"v":-15.9},{"h":1683,"v":-13},{"h":1710,"v":-9.7},{"h":1753,"v":-10.6},{"h":1797,"v":-10.1},{"h":1858,"v":-10.1},{"h":1919,"v":-10},{"h":1971,"v":-9.5},{"h":2015,"v":-10.5},{"h":2032,"v":-6.9},{"h":2076,"v":-4.1},{"h":2119,"v":-3},{"h":2145,"v":-1.3},{"h":2189,"v":-1.8},{"h":2224,"v":-0.8},{"h":2233,"v":-2.7},{"h":2267,"v":0},{"h":2294,"v":-3},{"h":2320,"v":-5},{"h":2355,"v":-6.9},{"h":2398,"v":-7.2},{"h":2424,"v":-8.8},{"h":2468,"v":-10.6},{"h":2494,"v":-10.6},{"h":2529,"v":-14.5},{"h":2573,"v":-15.8},{"h":2599,"v":-17.3},{"h":2625,"v":-20.6},{"h":2660,"v":-17.5},{"h":2703,"v":-18.2},{"h":2755,"v":-18.6},{"h":2816,"v":-18.2},{"h":2878,"v":-16.8},{"h":2921,"v":-17.7},{"h":2965,"v":-16.8},{"h":3008,"v":-18.2},{"h":3052,"v":-17.7},{"h":3078,"v":-18.2},{"h":3139,"v":-18.6},{"h":3191,"v":-19.1},{"h":3252,"v":-19.6},{"h":3296,"v":-20.6},{"h":3339,"v":-19.6},{"h":3383,"v":-19.1},{"h":3427,"v":-19.6},{"h":3470,"v":-20.6},{"h":3497,"v":-19.1},{"h":3540,"v":-15.8},{"h":3584,"v":-15.8},{"h":3627,"v":-14.4},{"h":3671,"v":-13.9},{"h":3706,"v":-12.1},{"h":3749,"v":-11.6},{"h":3793,"v":-12.6},{"h":3837,"v":-10.7},{"h":3863,"v":-8.8},{"h":3889,"v":-8.8},{"h":3924,"v":-12.5},{"h":3976,"v":-13.5},{"h":4020,"v":-14},{"h":4063,"v":-14},{"h":4107,"v":-15.3},{"h":4150,"v":-14.9},{"h":4211,"v":-15.8},{"h":4237,"v":-18.6},{"h":4281,"v":-18.1},{"h":4324,"v":-19.1},{"h":4368,"v":-18.1},{"h":4412,"v":-18.6},{"h":4447,"v":-19.1},{"h":4473,"v":-20.6},{"h":4517,"v":-20.1},{"h":4560,"v":-21.5},{"h":4604,"v":-20.1},{"h":4647,"v":-22},{"h":4673,"v":-23.4},{"h":4708,"v":-22.9},{"h":4734,"v":-18.6},{"h":4778,"v":-18.6},{"h":4795,"v":-22.5},{"h":4839,"v":-22.5},{"h":4883,"v":-23},{"h":4926,"v":-23.4},{"h":4970,"v":-23.9},{"h":5013,"v":-23.9},{"h":5057,"v":-23.4},{"h":5100,"v":-23.9},{"h":5127,"v":-24.8},{"h":5153,"v":-25.7},{"h":5188,"v":-25.7},{"h":5214,"v":-26.2},{"h":5231,"v":-26.4},{"h":5257,"v":-28.6},{"h":5283,"v":-29.5},{"h":5318,"v":-33.8},{"h":5344,"v":-30.8},{"h":5370,"v":-30.5},{"h":5414,"v":-30.8},{"h":5449,"v":-29.5},{"h":5458,"v":-29},{"h":5493,"v":-27.2},{"h":5536,"v":-26.2},{"h":5580,"v":-26.7},{"h":5623,"v":-26.7},{"h":5667,"v":-26.2},{"h":5711,"v":-25.4},{"h":5737,"v":-25.9},{"h":5763,"v":-27.6},{"h":5798,"v":-28.6},{"h":5841,"v":-30.5},{"h":5868,"v":-28.6},{"h":5894,"v":-23.9},{"h":5929,"v":-23},{"h":5955,"v":-26.2},{"h":5998,"v":-26.7},{"h":6042,"v":-25.7},{"h":6068,"v":-26.7},{"h":6111,"v":-25.4},{"h":6155,"v":-25.7},{"h":6198,"v":-24.9},{"h":6242,"v":-25.4},{"h":6286,"v":-24.9},{"h":6329,"v":-25.9},{"h":6373,"v":-26.7},{"h":6408,"v":-27.6},{"h":6434,"v":-31.4},{"h":6460,"v":-30},{"h":6495,"v":-32.4},{"h":6521,"v":-31.4},{"h":6565,"v":-32.8},{"h":6608,"v":-31.4},{"h":6635,"v":-29.5},{"h":6678,"v":-30.5},{"h":6722,"v":-31.4},{"h":6757,"v":-33.3},{"h":6800,"v":-31.8},{"h":6844,"v":-29.9},{"h":6870,"v":-28.5},{"h":6914,"v":-27.6},{"h":6957,"v":-27.6},{"h":6983,"v":-26.6},{"h":7027,"v":-24.3},{"h":7071,"v":-22.9},{"h":7105,"v":-24.3},{"h":7149,"v":-26.7},{"h":7175,"v":-28.6},{"h":7201,"v":-25.7},{"h":7262,"v":-25.2},{"h":7306,"v":-26.7},{"h":7349,"v":-28.6},{"h":7376,"v":-26.7},{"h":7419,"v":-25.7},{"h":7454,"v":-26.1},{"h":7480,"v":-23.9},{"h":7524,"v":-22.9},{"h":7550,"v":-22},{"h":7594,"v":-20.1},{"h":7637,"v":-21.1},{"h":7655,"v":-21.2},{"h":7698,"v":-22.5},{"h":7724,"v":-24.8},{"h":7768,"v":-22.5},{"h":7812,"v":-23.4},{"h":7855,"v":-22.5},{"h":7899,"v":-23.4},{"h":7942,"v":-23.9},{"h":7986,"v":-23.4},{"h":8029,"v":-23.9},{"h":8073,"v":-24.3},{"h":8116,"v":-24.8},{"h":8160,"v":-25.2},{"h":8204,"v":-22.9},{"h":8247,"v":-23.9},{"h":8308,"v":-20},{"h":8334,"v":-18.6},{"h":8378,"v":-21.9},{"h":8421,"v":-22.4},{"h":8456,"v":-23.9},{"h":8500,"v":-23.4},{"h":8526,"v":-23.9},{"h":8552,"v":-27},{"h":8596,"v":-27.4},{"h":8640,"v":-28.1},{"h":8683,"v":-27.6},{"h":8727,"v":-28.5},{"h":8770,"v":-29.8},{"h":8814,"v":-29.3},{"h":8858,"v":-29.8},{"h":8901,"v":-28.8},{"h":8936,"v":-29.8},{"h":8962,"v":-31.3},{"h":9006,"v":-31.8},{"h":9032,"v":-33.2},{"h":9049,"v":-34.7},{"h":9075,"v":-33.2},{"h":9119,"v":-33.7},{"h":9162,"v":-34.6},{"h":9197,"v":-33.7},{"h":9241,"v":-35.1},{"h":9284,"v":-35.5},{"h":9328,"v":-36},{"h":9354,"v":-38},{"h":9380,"v":-36.5},{"h":9415,"v":-37},{"h":9441,"v":-39.4},{"h":9485,"v":-39.9},{"h":9511,"v":-40.8},{"h":9546,"v":-39.4},{"h":9572,"v":-40.3},{"h":9616,"v":-39.9},{"h":9642,"v":-39.4},{"h":9660,"v":-35.1},{"h":9686,"v":-36.1},{"h":9721,"v":-37.5},{"h":9747,"v":-35.1},{"h":9790,"v":-34.2},{"h":9816,"v":-33.2},{"h":9860,"v":-34.2},{"h":9904,"v":-33.3},{"h":9947,"v":-34.2},{"h":9982,"v":-34.6},{"h":10008,"v":-36},{"h":10034,"v":-34.2},{"h":10069,"v":-35.1},{"h":10095,"v":-32.4},{"h":10122,"v":-31.9},{"h":10156,"v":-28.5},{"h":10183,"v":-27.2},{"h":10226,"v":-27.6},{"h":10270,"v":-27.6},{"h":10313,"v":-27.2},{"h":10357,"v":-28.1},{"h":10400,"v":-27.6},{"h":10444,"v":-28.6},{"h":10470,"v":-28.1},{"h":10505,"v":-27.6},{"h":10531,"v":-29},{"h":10548,"v":-26.8},{"h":10574,"v":-24.4},{"h":10600,"v":-22.9},{"h":10635,"v":-21.5},{"h":10679,"v":-19.6},{"h":10723,"v":-19.2},{"h":10749,"v":-21},{"h":10775,"v":-21.9},{"h":10810,"v":-23.9},{"h":10836,"v":-23.4},{"h":10862,"v":-24.3},{"h":10897,"v":-21},{"h":10923,"v":-18.2},{"h":10950,"v":-19.1},{"h":10984,"v":-17.2},{"h":11011,"v":-19.1},{"h":11037,"v":-16.3},{"h":11080,"v":-14.5},{"h":11115,"v":-17.2},{"h":11159,"v":-18.2},{"h":11185,"v":-17.2},{"h":11211,"v":-19.6},{"h":11246,"v":-21},{"h":11290,"v":-21.5},{"h":11333,"v":-20.5},{"h":11377,"v":-21},{"h":11420,"v":-21.9},{"h":11464,"v":-21.5},{"h":11507,"v":-22.9},{"h":11551,"v":-24.8},{"h":11577,"v":-24.3},{"h":11621,"v":-23.9},{"h":11647,"v":-21.5},{"h":11682,"v":-18.2},{"h":11708,"v":-16.8},{"h":11752,"v":-17.3},{"h":11778,"v":-15.8},{"h":11821,"v":-16.8},{"h":11865,"v":-14.5},{"h":11900,"v":-15.4},{"h":11943,"v":-15},{"h":11970,"v":-15},{"h":12031,"v":-16.8},{"h":12057,"v":-19.1},{"h":12100,"v":-18.2},{"h":12144,"v":-16.3},{"h":12187,"v":-14.5},{"h":12231,"v":-11.5}
    ],
    "zero": [{"h":1,"v":0},{"h":12240,"v":0}],
    "mark1": [{"h":6007,"v":101.1,"t":"POKER"}],
    "mark2": [{"h":6042,"v":101.1,"t":"TRACKER"}]
  },
  "encoding": {
    "x": {
      "field": "h", "type": "quantitative",
      "scale": {"domain": [1, 12240], "nice": false, "zero": false},
      "axis": {"values": [1,515,1029,1543,2057,2571,3085,3599,4113,4627,5141,5655,6169,6683,7197,7711,8225,8739,9253,9767,10281,10795,11309,11823,12240], "format": ",d", "title": "Hands Played", "grid": true, "tickSize": 3, "labelPadding": 3, "labelFlush": false, "labelOverlap": false, "titlePadding": 7}
    },
    "y": {
      "field": "v", "type": "quantitative",
      "scale": {"domain": [-100, 120], "nice": false, "zero": false},
      "axis": {"orient": "right", "values": [-100,-90,-80,-70,-60,-50,-40,-30,-20,-10,0,10,20,30,40,50,60,70,80,90,100,110,120], "labelExpr": "'$' + datum.value", "title": "$", "grid": true, "tickSize": 3, "labelPadding": 4, "labelFlush": false, "labelOverlap": false, "titlePadding": 11}
    }
  },
  "layer": [
    {"data": {"name": "mark1"}, "mark": {"type": "text", "align": "right", "baseline": "alphabetic", "font": "Roboto", "fontSize": 44, "fontWeight": "bold", "color": "#e8e8e8"}, "encoding": {"text": {"field": "t"}}},
    {"data": {"name": "mark2"}, "mark": {"type": "text", "align": "left", "baseline": "alphabetic", "font": "Roboto", "fontSize": 40, "fontWeight": 300, "color": "#f1f1f1"}, "encoding": {"text": {"field": "t"}}},
    {"data": {"name": "zero"}, "mark": {"type": "line", "color": "#000000", "strokeWidth": 1}},
    {"data": {"name": "olive"}, "mark": {"type": "line", "color": "#a4a400", "strokeWidth": 1.8}},
    {"data": {"name": "red"}, "mark": {"type": "line", "color": "#a40000", "strokeWidth": 1.8}},
    {"data": {"name": "green"}, "mark": {"type": "line", "color": "#00a400", "strokeWidth": 1.8}},
    {"data": {"name": "blue"}, "mark": {"type": "line", "color": "#0000a4", "strokeWidth": 1.8}}
  ]
}
